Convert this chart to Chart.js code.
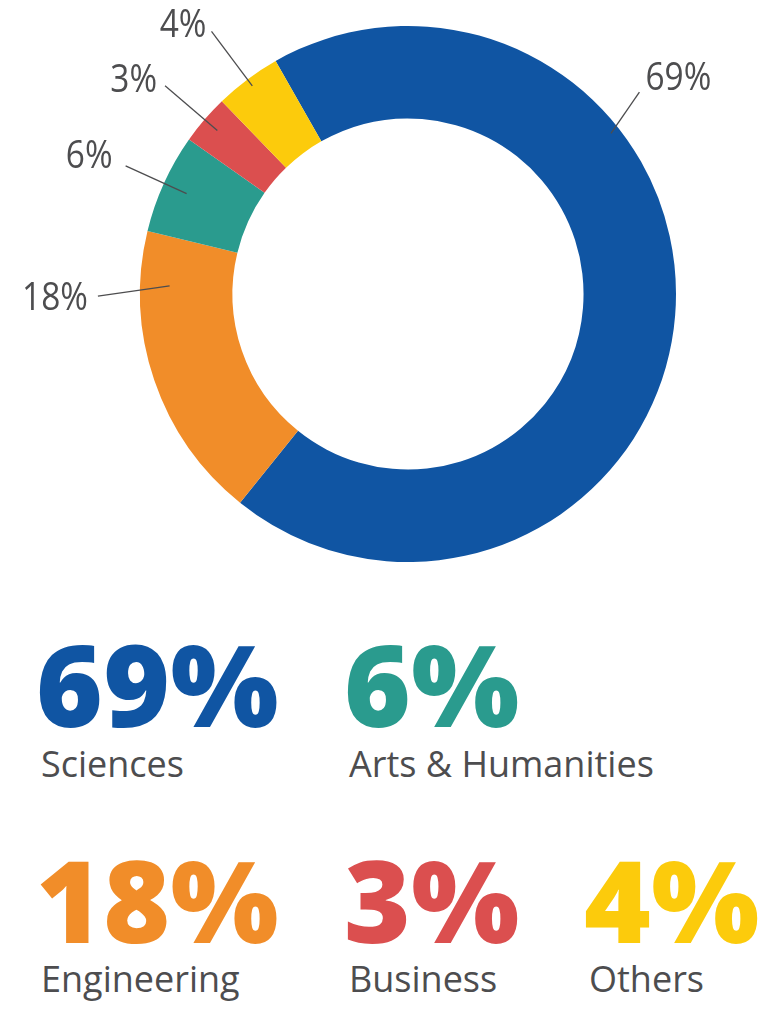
<!DOCTYPE html>
<html>
<head>
<meta charset="utf-8">
<script src="https://cdn.jsdelivr.net/npm/chart.js"></script>
<style>
  body { margin: 0; background: #fff; }
  #wrap { position: relative; width: 767px; height: 1009px; overflow: hidden; font-family: "Open Sans", "Noto Sans", sans-serif; }
  #chartBox { position: absolute; left: 0; top: 0; width: 767px; height: 600px; }
  .big { position: absolute; font-size: 114px; line-height: 114px; font-weight: 800; letter-spacing: 0.5px; white-space: nowrap; }
  .lbl { position: absolute; font-size: 36px; line-height: 36px; color: #4d4d4f; white-space: nowrap; }
</style>
</head>
<body>
<div id="wrap">
  <div id="chartBox"><canvas id="myChart"></canvas></div>
  <div id="stats"></div>
</div>
<script>
// data
var categories = ["Sciences", "Engineering", "Arts & Humanities", "Business", "Others"];
var shares = [69, 18, 6, 3, 4];
var colors = ["#1055a3", "#f18d29", "#2a9b8e", "#db4f4f", "#fccb0c"];

// leader lines: fraction along the arc for each end, radius of each end (x outer radius)
var leader = [
  { fIn: 0.327, fOut: 0.316, rIn: 0.966, rOut: 1.146, align: "left",  base: "alphabetic", dx: 6,   dy: -2 },
  { fIn: 0.82,  fOut: 0.784, rIn: 0.89,  rOut: 1.157, align: "right", base: "middle",     dx: -10, dy: 3 },
  { fIn: 0.5,   fOut: 0.5,   rIn: 0.907, rOut: 1.157, align: "right", base: "alphabetic", dx: -13, dy: 2 },
  { fIn: 0.5,   fOut: 0.5,   rIn: 0.937, rOut: 1.194, align: "right", base: "alphabetic", dx: -8,  dy: 6 },
  { fIn: 0.5,   fOut: 0.5,   rIn: 0.97,  rOut: 1.224, align: "right", base: "alphabetic", dx: -5,  dy: 6 }
];

// big number blocks below the chart: [left, baseline of number, baseline of label]
var blockPos = [
  [36, 727, 778],
  [36, 943, 993],
  [344, 727, 778],
  [344, 943, 993],
  [584, 943, 993]
];

var leaderPlugin = {
  id: 'leaderLabels',
  afterDatasetsDraw: function(chart) {
    var ctx = chart.ctx;
    var meta = chart.getDatasetMeta(0);
    var sx = 0.88;
    ctx.save();
    ctx.strokeStyle = "#4d4d4f";
    ctx.fillStyle = "#4d4d4f";
    ctx.lineWidth = 1.3;
    ctx.font = '38px "Open Sans", "Noto Sans", sans-serif';
    meta.data.forEach(function(arc, i) {
      var p = arc.getProps(['x', 'y', 'startAngle', 'endAngle', 'outerRadius'], true);
      var l = leader[i];
      var span = p.endAngle - p.startAngle;
      var a1 = p.startAngle + l.fIn * span;
      var a2 = p.startAngle + l.fOut * span;
      var x1 = p.x + Math.cos(a1) * p.outerRadius * l.rIn;
      var y1 = p.y + Math.sin(a1) * p.outerRadius * l.rIn;
      var x2 = p.x + Math.cos(a2) * p.outerRadius * l.rOut;
      var y2 = p.y + Math.sin(a2) * p.outerRadius * l.rOut;
      ctx.beginPath();
      ctx.moveTo(x1, y1);
      ctx.lineTo(x2, y2);
      ctx.stroke();
      // the original type is narrower, squeeze it a bit
      ctx.save();
      ctx.translate(x2 + l.dx, y2 + l.dy);
      ctx.scale(sx, 1);
      ctx.textAlign = l.align;
      ctx.textBaseline = l.base;
      ctx.fillText(shares[i] + "%", 0, 0);
      ctx.restore();
    });
    ctx.restore();
  }
};

var ctx = document.getElementById('myChart').getContext('2d');
var chart = new Chart(ctx, {
    type: 'doughnut',
    data: {
        labels: categories,
        datasets: [{
            data: shares,
            backgroundColor: colors,
            borderWidth: 0
        }]
    },
    options: {
        responsive: true,
        maintainAspectRatio: false,
        animation: false,
        rotation: -29.6,
        cutout: '65.5%',
        layout: { padding: { left: 140, right: 91, top: 26, bottom: 38 } },
        plugins: {
            legend: { display: false },
            tooltip: { enabled: false }
        }
    },
    plugins: [leaderPlugin]
});

// stat blocks
var stats = document.getElementById('stats');
categories.forEach(function(name, i) {
    var pos = blockPos[i];
    var num = document.createElement('div');
    num.className = 'big';
    num.style.color = colors[i];
    num.style.left = pos[0] + 'px';
    num.style.top = (pos[1] - 0.888 * 114) + 'px';
    num.textContent = shares[i] + '%';
    stats.appendChild(num);
    var lbl = document.createElement('div');
    lbl.className = 'lbl';
    lbl.style.left = (pos[0] + 5) + 'px';
    lbl.style.top = (pos[2] - 0.888 * 36) + 'px';
    lbl.textContent = name;
    stats.appendChild(lbl);
});
</script>
</body>
</html>
